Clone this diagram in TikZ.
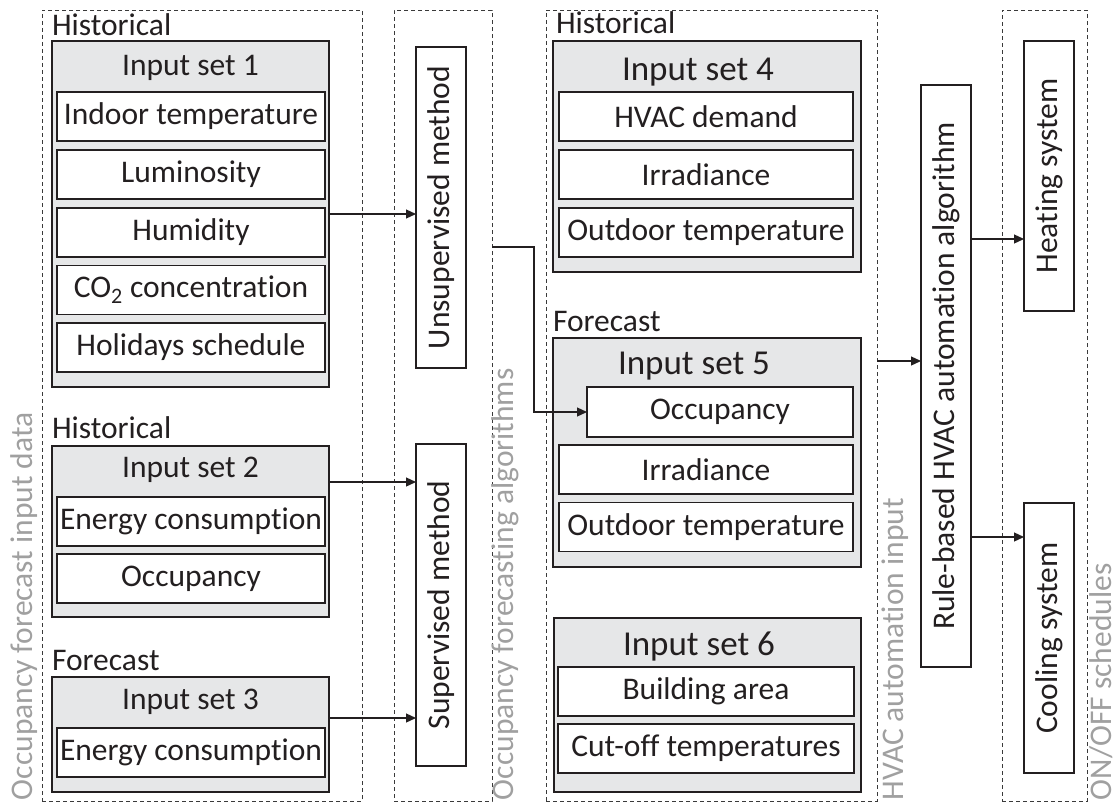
\documentclass[tikz,border=0pt]{standalone}
\usepackage{fontspec}
\setmainfont{Carlito}[Ligatures={NoCommon}]
\usetikzlibrary{arrows.meta,calc}
\definecolor{ink}{HTML}{231F20}
\definecolor{boxgray}{HTML}{E6E7E8}
\definecolor{lblgray}{HTML}{A0A0A0}
\definecolor{dashgray}{HTML}{3A3A3A}
\newcommand{\fs}{\fontsize{31.5}{36}\selectfont}
\newcommand{\fb}{\fontsize{35}{40}\selectfont}
\begin{document}
\begin{tikzpicture}[x=1pt,y=-1pt,
  every node/.style={text=ink, inner sep=0pt, outer sep=0pt},
  dashbox/.style={draw=dashgray, line width=0.9pt, dash pattern=on 4pt off 3pt},
  setbox/.style={draw=ink, fill=boxgray, line width=1.8pt},
  item/.style={draw=ink, fill=white, line width=1.8pt, minimum height=49pt, font=\fs},
  vbox/.style={draw=ink, fill=white, line width=1.6pt, minimum width=50pt, font=\fs},
  grp/.style={font=\fs, anchor=base west},
  ttl/.style={font=\fs},
  bigttl/.style={font=\fb},
  side/.style={font=\fs, text=lblgray, rotate=90, anchor=base west},
  arr/.style={draw=ink, line width=1.2pt, -{Triangle[length=10pt,width=9pt]}},
  conn/.style={draw=ink, line width=1.2pt}
]
\useasboundingbox (0,0) rectangle (1117,806);

% dashed group frames
\node[dashbox, minimum width=320pt, minimum height=791pt] (box1) at (202,405.5) {};
\node[dashbox, minimum width=98pt, minimum height=791pt] (box2) at (443,405.5) {};
\node[dashbox, minimum width=331pt, minimum height=791pt] (box3) at (711.5,405.5) {};
\node[dashbox, minimum width=85pt, minimum height=791pt] (box4) at (1044.5,405.5) {};

% side labels
\node[side] (lab1) at (32,800) {Occupancy forecast input data};
\node[side] (lab2) at (513,800) {Occupancy forecasting algorithms};
\node[side] (lab3) at (903,800) {HVAC automation input};
\node[side] (lab4) at (1111,800) {ON/OFF schedules};

% ---- Input set 1
\node[grp] (h1) at (52,35) {Historical};
\node[setbox, minimum width=277pt, minimum height=346pt] (set1) at (190.5,214) {};
\node[ttl] (t1) at (190.5,68) {Input set 1};
\node[item, minimum width=268pt] (i11) at (191,116.5) {Indoor temperature};
\node[item, minimum width=268pt] (i12) at (191,174.5) {Luminosity};
\node[item, minimum width=268pt] (i13) at (191,232.5) {Humidity};
\node[item, minimum width=268pt] (i14) at (191,290) {CO\textsubscript{2} concentration};
\node[item, minimum width=268pt] (i15) at (191,347.5) {Holidays schedule};

% ---- Input set 2
\node[grp] (h2) at (52,438) {Historical};
\node[setbox, minimum width=277pt, minimum height=171pt] (set2) at (190.5,531.5) {};
\node[ttl] (t2) at (190.5,470) {Input set 2};
\node[item, minimum width=268pt] (i21) at (191,521.5) {Energy consumption};
\node[item, minimum width=268pt] (i22) at (191,578.5) {Occupancy};

% ---- Input set 3
\node[grp] (h3) at (52,670) {Forecast};
\node[setbox, minimum width=277pt, minimum height=115pt] (set3) at (190.5,734.5) {};
\node[ttl] (t3) at (190.5,702) {Input set 3};
\node[item, minimum width=268pt] (i31) at (191,752.5) {Energy consumption};

% ---- methods
\node[vbox, minimum height=321pt] (unsup) at (441,207.5) {\rotatebox{90}{Unsupervised method}};
\node[vbox, minimum height=322pt] (sup) at (441,605) {\rotatebox{90}{Supervised method}};

% ---- Input set 4
\node[grp] (h4) at (556,33) {Historical};
\node[setbox, minimum width=308pt, minimum height=231pt] (set4) at (707,156.5) {};
\node[bigttl] (t4) at (698,72) {Input set 4};
\node[item, minimum width=294pt] (i41) at (706,116.5) {HVAC demand};
\node[item, minimum width=294pt] (i42) at (706,174.5) {Irradiance};
\node[item, minimum width=294pt] (i43) at (706,232.5) {Outdoor temperature};

% ---- Input set 5
\node[grp] (h5) at (553,331) {Forecast};
\node[setbox, minimum width=308pt, minimum height=229pt] (set5) at (707,452.5) {};
\node[bigttl] (t5) at (694,366) {Input set 5};
\node[item, minimum width=266pt, minimum height=50pt] (occ) at (720,412) {Occupancy};
\node[item, minimum width=294pt] (i52) at (706,469.5) {Irradiance};
\node[item, minimum width=294pt] (i53) at (706,527) {Outdoor temperature};

% ---- Input set 6
\node[setbox, minimum width=307pt, minimum height=174pt] (set6) at (707.5,705) {};
\node[bigttl] (t6) at (699,646) {Input set 6};
\node[item, minimum width=296pt] (i61) at (706,691.5) {Building area};
\node[item, minimum width=296pt] (i62) at (706,748.5) {Cut-off temperatures};

% ---- automation and systems
\node[vbox, minimum height=582pt] (rule) at (946,376) {\rotatebox{90}{Rule-based HVAC automation algorithm}};
\node[vbox, minimum height=270pt] (heat) at (1049,176) {\rotatebox{90}{Heating system}};
\node[vbox, minimum height=270pt] (cool) at (1049,638) {\rotatebox{90}{Cooling system}};

% ---- connectors
\coordinate (y2) at (0,482);
\coordinate (y3) at (0,718);
\coordinate (y4) at (0,247);
\coordinate (y5) at (0,361);
\coordinate (y6) at (0,239);
\coordinate (y7) at (0,537);

\draw[arr] (set1.east) -- (set1.east -| unsup.west);
\draw[arr] (set2.east |- y2) -- (sup.west |- y2);
\draw[arr] (set3.east |- y3) -- (sup.west |- y3);
\draw[arr] (box2.east |- y4) -- ++(42,0) |- (occ.west);
\draw[arr] (box3.east |- y5) -- (rule.west |- y5);
\draw[arr] (rule.east |- y6) -- (heat.west |- y6);
\draw[arr] (rule.east |- y7) -- (cool.west |- y7);
\end{tikzpicture}
\end{document}
